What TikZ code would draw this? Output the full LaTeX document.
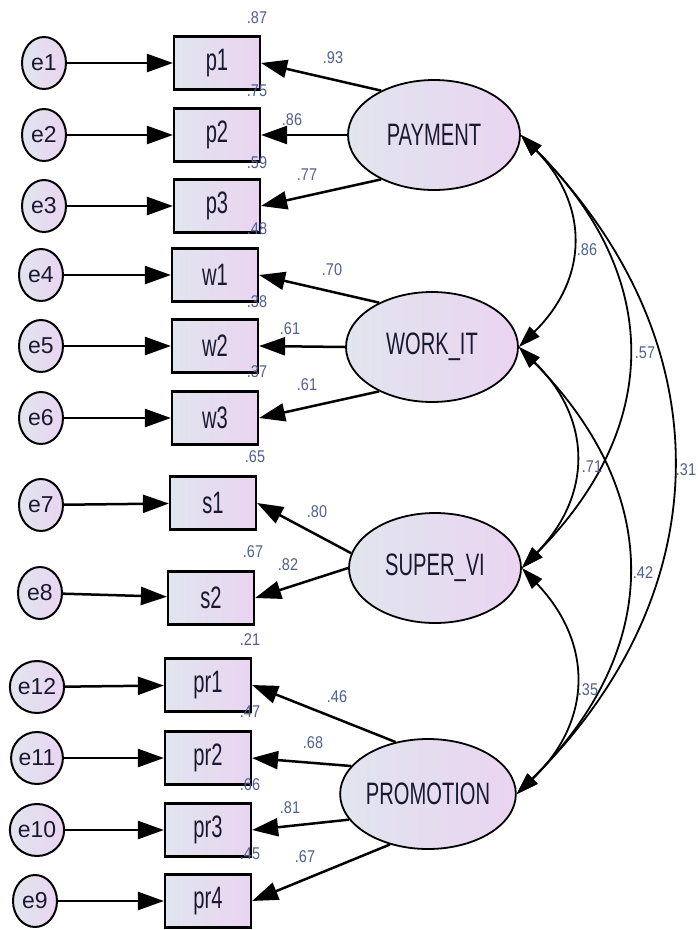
\documentclass[tikz,border=0pt]{standalone}
\usepackage{fontspec}
\setmainfont{Liberation Sans}
\newfontfamily\boxfont{Liberation Sans}[FakeStretch=0.65]
\newfontfamily\numfont{Liberation Sans}[FakeStretch=0.85]
\usetikzlibrary{arrows.meta,shapes.geometric}
\definecolor{fillL}{RGB}{225,229,238}
\definecolor{fillR}{RGB}{234,212,241}
\definecolor{txt}{RGB}{25,25,50}
\definecolor{num}{RGB}{80,95,145}

\begin{document}
\begin{tikzpicture}[x=1pt,y=-1pt,
  obs/.style={draw,line width=2.2pt,rectangle,minimum width=86pt,minimum height=53pt,inner sep=0pt,left color=fillL,right color=fillR,text=txt,font=\boxfont\fontsize{31}{31}\selectfont},
  lat/.style={draw,line width=1.8pt,ellipse,minimum width=172pt,minimum height=110pt,inner sep=0pt,left color=fillL,right color=fillR,text=txt,font=\boxfont\fontsize{31}{31}\selectfont},
  err/.style={draw,line width=2pt,ellipse,minimum width=44pt,minimum height=52pt,inner sep=0pt,left color=fillL,right color=fillR,text=txt,font=\fontsize{23}{23}\selectfont},
  coef/.style={text=num,inner sep=0pt,font=\numfont\fontsize{17}{17}\selectfont},
  load/.style={line width=2.5pt,-{Triangle[length=26pt,width=18pt]}},
  cov/.style={line width=1.8pt,{Triangle[length=22pt,width=14pt]}-{Triangle[length=22pt,width=14pt]},bend left=45,looseness=1.18}
]
	\useasboundingbox (0,0) rectangle (698,930);
	\clip (0,0) rectangle (698,930);

	% error terms
	\node[err] (e1) at (44,63) {e1};
	\node[err] (e2) at (44,135) {e2};
	\node[err] (e3) at (44,206) {e3};
	\node[err] (e4) at (41,275) {e4};
	\node[err] (e5) at (41,346) {e5};
	\node[err] (e6) at (41,418) {e6};
	\node[err] (e7) at (41,505) {e7};
	\node[err] (e8) at (40,593) {e8};
	\node[err] (e12) at (37,687) {e12};
	\node[err] (e11) at (37,758) {e11};
	\node[err] (e10) at (37,830) {e10};
	\node[err] (e9) at (35,901) {e9};

	% items
	\node[obs] (p1) at (217,63) {p1};
	\node[obs] (p2) at (217,135) {p2};
	\node[obs] (p3) at (217,206) {p3};
	\node[obs] (w1) at (215,275) {w1};
	\node[obs] (w2) at (215,346) {w2};
	\node[obs] (w3) at (215,418) {w3};
	\node[obs] (s1) at (213,503) {s1};
	\node[obs] (s2) at (211,598) {s2};
	\node[obs] (pr1) at (208,685) {pr1};
	\node[obs] (pr2) at (208,758) {pr2};
	\node[obs] (pr3) at (208,830) {pr3};
	\node[obs] (pr4) at (208,901) {pr4};

	% factors
	\node[lat] (pay) at (434,135) {PAYMENT};
	\node[lat] (work) at (432,347) {WORK\_IT};
	\node[lat] (sup) at (435,568) {SUPER\_VI};
	\node[lat] (promo) at (428,794) {PROMOTION};

	\draw[load] (e1) -- (p1);
	\draw[load] (e2) -- (p2);
	\draw[load] (e3) -- (p3);
	\draw[load] (e4) -- (w1);
	\draw[load] (e5) -- (w2);
	\draw[load] (e6) -- (w3);
	\draw[load] (e7) -- (s1);
	\draw[load] (e8) -- (s2);
	\draw[load] (e12) -- (pr1);
	\draw[load] (e11) -- (pr2);
	\draw[load] (e10) -- (pr3);
	\draw[load] (e9) -- (pr4);

	\draw[load] (pay.140) -- (p1.east);
	\draw[load] (pay.west) -- (p2.east);
	\draw[load] (pay.220) -- (p3.east);
	\draw[load] (work.140) -- (w1.east);
	\draw[load] (work.west) -- (w2.east);
	\draw[load] (work.220) -- (w3.east);
	\draw[load] (sup.170) -- (s1.east);
	\draw[load] (sup.west) -- (s2.east);
	\draw[load] (promo.122) -- (pr1.east);
	\draw[load] (promo.160) -- (pr2.east);
	\draw[load] (promo.198) -- (pr3.east);
	\draw[load] (promo.233) -- (pr4.east);

	\draw[cov] (pay.east) to (work.east);
	\draw[cov] (pay.east) to (sup.east);
	\draw[cov,looseness=1.12] (pay.east) to (promo.east);
	\draw[cov] (work.east) to (sup.east);
	\draw[cov] (work.east) to (promo.east);
	\draw[cov] (sup.east) to (promo.east);

	% loadings
	\node[coef] (l1) at (333,58) {.93};
	\node[coef] (l2) at (292,120) {.86};
	\node[coef] (l3) at (307,175) {.77};
	\node[coef] (l4) at (332,270) {.70};
	\node[coef] (l5) at (290,329) {.61};
	\node[coef] (l6) at (307,385) {.61};
	\node[coef] (l7) at (317,512) {.80};
	\node[coef] (l8) at (288,565) {.82};
	\node[coef] (l9) at (337,697) {.46};
	\node[coef] (l10) at (313,743) {.68};
	\node[coef] (l11) at (290,808) {.81};
	\node[coef] (l12) at (305,857) {.67};

	% squared multiple correlations
	\node[coef] (r1) at (257,18) {.87};
	\node[coef] (r2) at (257,91) {.75};
	\node[coef] (r3) at (257,163) {.59};
	\node[coef] (r4) at (257,229) {.48};
	\node[coef] (r5) at (257,302) {.38};
	\node[coef] (r6) at (257,372) {.37};
	\node[coef] (r7) at (255,457) {.65};
	\node[coef] (r8) at (253,552) {.67};
	\node[coef] (r9) at (250,640) {.21};
	\node[coef] (r10) at (250,712) {.47};
	\node[coef] (r11) at (250,785) {.66};
	\node[coef] (r12) at (250,854) {.45};

	% correlations
	\node[coef] (c1) at (587,250) {.86};
	\node[coef] (c2) at (645,353) {.57};
	\node[coef] (c3) at (686,470) {.31};
	\node[coef] (c4) at (592,467) {.71};
	\node[coef] (c5) at (643,573) {.42};
	\node[coef] (c6) at (588,690) {.35};
\end{tikzpicture}
\end{document}
